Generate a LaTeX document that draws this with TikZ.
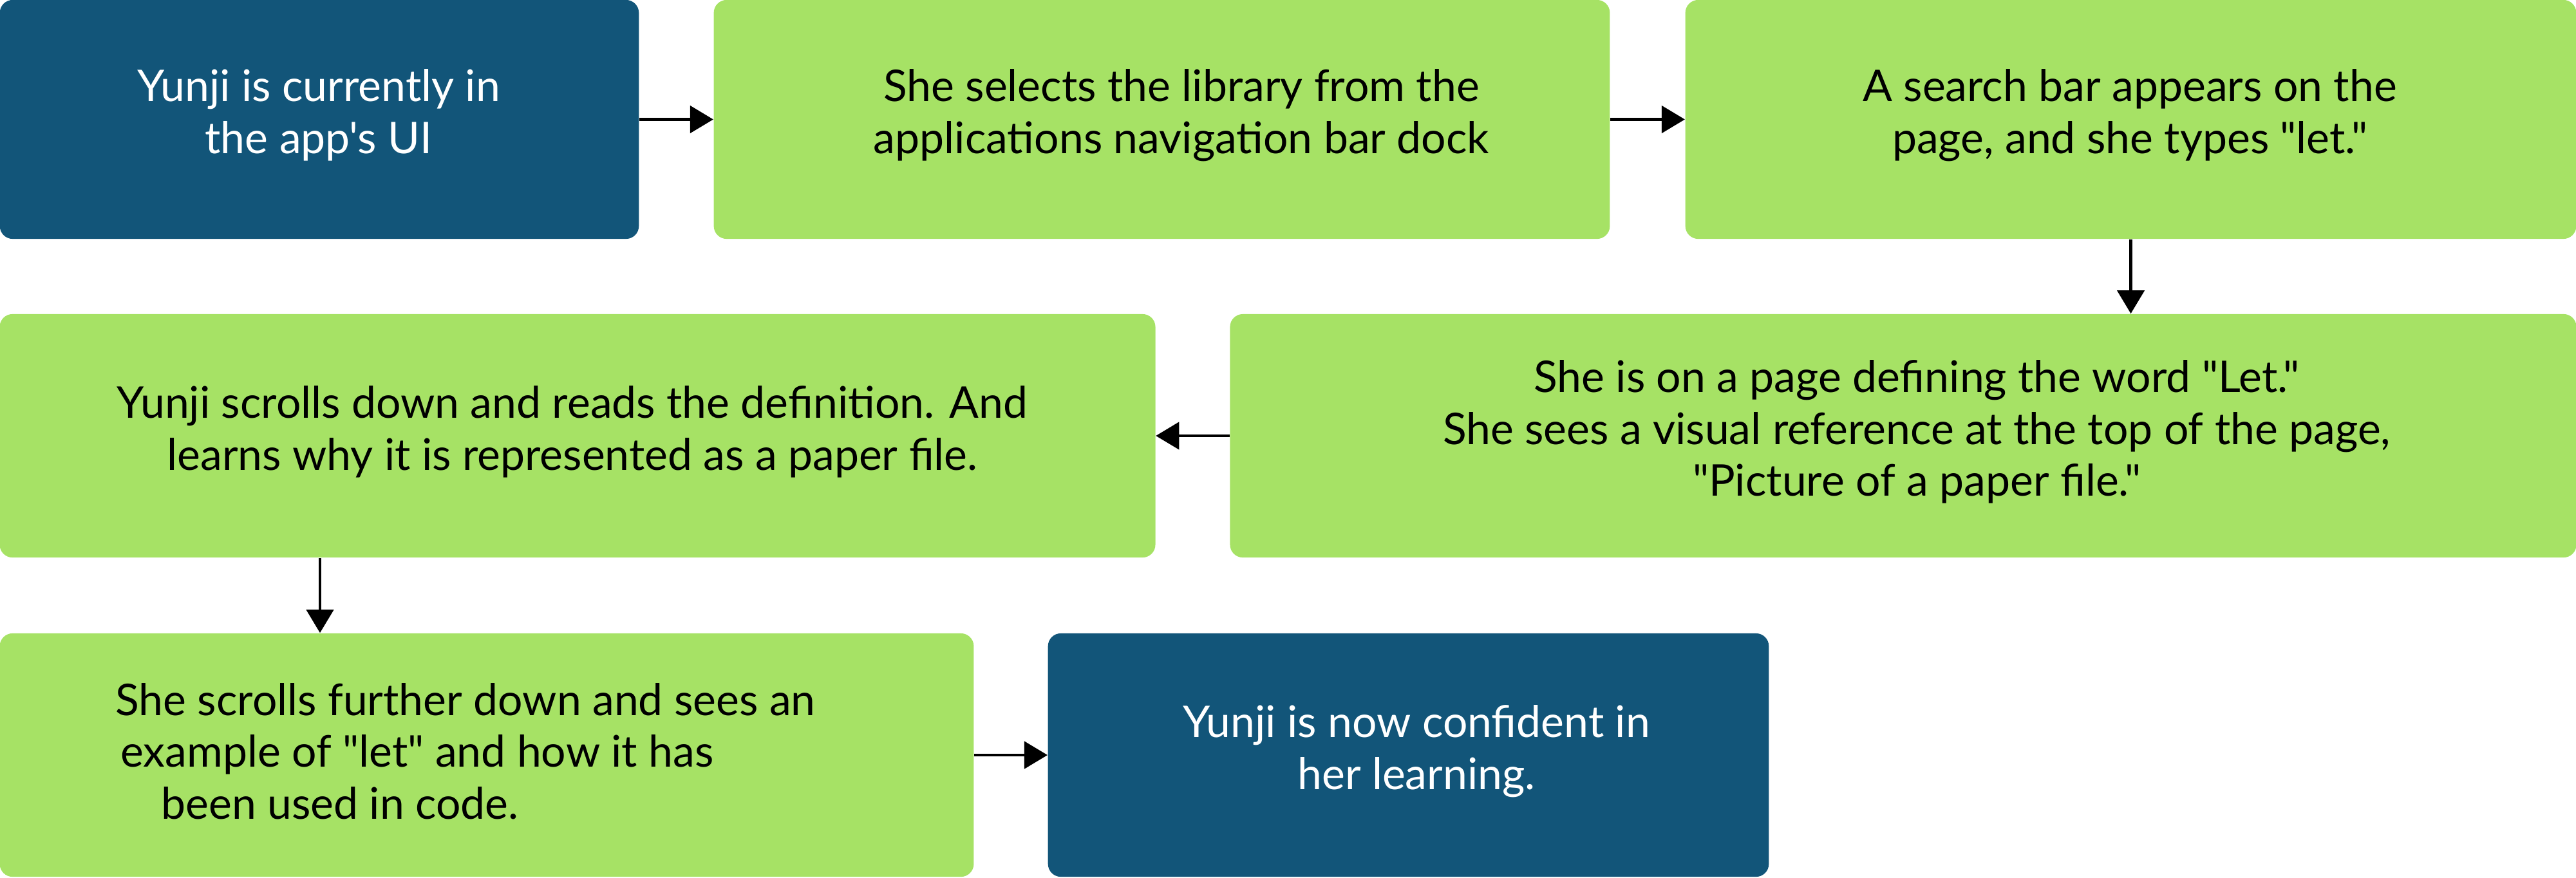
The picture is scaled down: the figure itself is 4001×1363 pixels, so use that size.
\documentclass[tikz,border=0pt]{standalone}
\usepackage{fontspec}
\setmainfont{Lato}[Ligatures=TeXOff]
\usetikzlibrary{arrows.meta,calc}
\definecolor{stepblue}{HTML}{125579}
\definecolor{stepgreen}{HTML}{A6E265}
\begin{document}
\begin{tikzpicture}[x=0.01cm,y=-0.01cm,
  card/.style={rectangle,rounded corners=0.2cm,inner sep=0pt,draw=none},
  bluecard/.style={card,fill=stepblue},
  greencard/.style={card,fill=stepgreen},
  caption/.style={inner sep=0pt,align=center,font=\fontsize{19.3pt}{22.9pt}\selectfont},
  whitecaption/.style={caption,text=white},
  blackcaption/.style={caption,text=black},
  flow/.style={line width=0.045cm,-{Triangle[length=0.36cm,width=0.42cm]}}]
\useasboundingbox (0,0) rectangle (4001,1363);

% cards of the first row
\node[bluecard,minimum width=9.92cm,minimum height=3.71cm] (b1) at (496,185.5) {};
\node[greencard,minimum width=13.91cm,minimum height=3.71cm] (b2) at (1804.5,185.5) {};
\node[greencard,minimum width=13.83cm,minimum height=3.71cm] (b3) at (3309.5,185.5) {};
% second row
\node[greencard,minimum width=20.90cm,minimum height=3.78cm] (b4) at (2956,677) {};
\node[greencard,minimum width=17.94cm,minimum height=3.78cm] (b5) at (897,677) {};
% third row
\node[greencard,minimum width=15.12cm,minimum height=3.78cm] (b6) at (756,1173) {};
\node[bluecard,minimum width=11.19cm,minimum height=3.78cm] (b7) at (2187.5,1173) {};

% captions
\node[whitecaption] (t1) at (495,179) {Yunji is currently in\\the app's UI};
\node[blackcaption] (t2) at (1835,179) {She selects the library from the\\applications navigation bar dock};
\node[blackcaption] (t3) at (3308,179) {A search bar appears on the\\page, and she types "let."};
\node[blackcaption] (t4) at (2977,671) {She is on a page defining the word "Let."\\She sees a visual reference at the top of the page,\\"Picture of a paper file."};
\node[blackcaption] (t5) at (889,671) {Yunji scrolls down and reads the definition. And\\learns why it is represented as a paper file.};
\node[blackcaption] (t6) at (723,1167) {She scrolls further down and sees an\\example of "let" and how it has\rule{1.5cm}{0pt}\\been used in code.\rule{3.9cm}{0pt}};
\node[whitecaption] (t7) at (2200,1167) {Yunji is now confident in\\her learning.};

% connectors
\coordinate (drop) at (497,0);
\draw[flow] (b1.east) -- (b2.west);
\draw[flow] (b2.east) -- (b3.west);
\draw[flow] (b3.south) -- (b3.south |- b4.north);
\draw[flow] (b4.west) -- (b5.east);
\draw[flow] (drop |- b5.south) -- (drop |- b6.north);
\draw[flow] (b6.east) -- (b7.west);
\end{tikzpicture}
\end{document}
